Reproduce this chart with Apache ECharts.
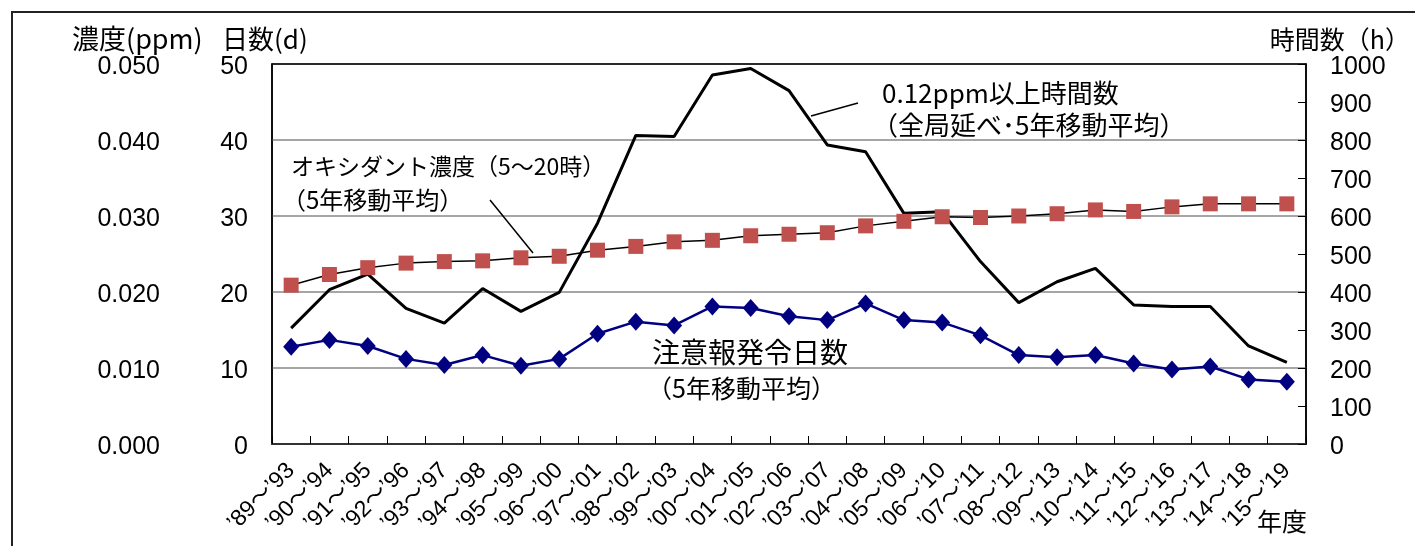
<!DOCTYPE html>
<html>
<head>
<meta charset="utf-8">
<script src="https://cdn.jsdelivr.net/npm/echarts@6/dist/echarts.min.js"></script>
<style>
html,body{margin:0;padding:0;background:#fff;}
#chart{width:1415px;height:546px;}
</style>
</head>
<body>
<div id="chart"></div>
<script>
var categories = ["’89～’93","’90～’94","’91～’95","’92～’96","’93～’97","’94～’98","’95～’99","’96～’00","’97～’01","’98～’02","’99～’03","’00～’04","’01～’05","’02～’06","’03～’07","’04～’08","’05～’09","’06～’10","’07～’11","’08～’12","’09～’13","’10～’14","’11～’15","’12～’16","’13～’17","’14～’18","’15～’19"];
// オキシダント濃度 (ppm, 5年移動平均)
var oxidantConc = [0.0209,0.0223,0.0232,0.0238,0.0240,0.0241,0.0245,0.0247,0.0255,0.0260,0.0266,0.0268,0.0274,0.0276,0.0278,0.0287,0.0293,0.0299,0.0298,0.0300,0.0303,0.0308,0.0306,0.0312,0.0316,0.0316,0.0316];
// 注意報発令日数 (d, 5年移動平均)
var alertDays = [12.8,13.7,12.9,11.2,10.4,11.7,10.3,11.2,14.5,16.1,15.6,18.1,17.9,16.8,16.3,18.5,16.3,16.0,14.3,11.7,11.4,11.7,10.6,9.8,10.2,8.5,8.2];
// 0.12ppm以上時間数 (h, 全局延べ・5年移動平均)
var hoursOver = [305,406,447,357,318,409,349,399,581,812,809,971,988,930,787,769,607,611,480,372,427,462,366,362,362,258,215];
var concTicks = [0,0.05,0.01];
var dayTicks = [0,50,10];
var hourTicks = [0,1000,100];

var FONT = "'Liberation Sans','Noto Sans CJK JP',sans-serif";
var JFONT = "'Noto Sans CJK JP',sans-serif";

var chart = echarts.init(document.getElementById('chart'), null, {renderer:'canvas'});

function txt(t, x, y, size, align){
  return {type:'text', x:x, y:y, z:100, style:{text:t, fill:'#000', fontSize:size, fontFamily:JFONT, textAlign:align||'left', textVerticalAlign:'middle', align:align||'left', verticalAlign:'middle'}};
}

function yLabel(fmt){
  return {margin:24, formatter:function(v){return '{a|' + fmt(v) + '}';},
          rich:{a:{fontSize:25, fontFamily:FONT, color:'#000', padding:[7,0,0,0]}}};
}

var option = {
  animation:false,
  backgroundColor:'#fff',
  grid:{left:272, right:109, top:64, bottom:102, show:true, borderColor:'#000', borderWidth:1.5, containLabel:false},
  xAxis:{
    type:'category', data:categories, boundaryGap:true,
    axisLine:{show:true, lineStyle:{color:'#333', width:2}},
    axisTick:{show:true, inside:true, length:8, lineStyle:{color:'#000', width:1}},
    axisLabel:{interval:0, rotate:45, fontSize:23, fontFamily:FONT, color:'#000', margin:23},
    splitLine:{show:false}
  },
  yAxis:[
    {type:'value', position:'left', min:dayTicks[0], max:dayTicks[1], interval:dayTicks[2],
     axisLine:{show:true, lineStyle:{color:'#000', width:1.5}},
     axisTick:{show:false},
     axisLabel:yLabel(function(v){return String(v);}),
     splitLine:{show:true, lineStyle:{color:'#a6a6a6', width:2}}},
    {type:'value', position:'left', offset:88, min:concTicks[0], max:concTicks[1], interval:concTicks[2],
     axisLine:{show:false}, axisTick:{show:false},
     axisLabel:yLabel(function(v){return v.toFixed(3);}),
     splitLine:{show:false}},
    {type:'value', position:'right', min:hourTicks[0], max:hourTicks[1], interval:hourTicks[2],
     axisLine:{show:true, lineStyle:{color:'#000', width:1.5}},
     axisTick:{show:true, inside:true, length:8, lineStyle:{color:'#000', width:1}},
     axisLabel:yLabel(function(v){return String(v);}),
     splitLine:{show:false}}
  ],
  series:[
    {name:'0.12ppm以上時間数', type:'line', yAxisIndex:2, data:hoursOver, symbol:'none', showSymbol:false,
     lineStyle:{color:'#000', width:3}, z:2},
    {name:'オキシダント濃度', type:'line', yAxisIndex:1, data:oxidantConc, symbol:'rect', symbolSize:15,
     itemStyle:{color:'#C0504D'}, lineStyle:{color:'#000', width:1.5}, z:3},
    {name:'注意報発令日数', type:'line', yAxisIndex:0, data:alertDays, symbol:'diamond', symbolSize:[16,18],
     itemStyle:{color:'#000080'}, lineStyle:{color:'#000080', width:2.5}, z:4}
  ],
  graphic:[
    {type:'polyline', z:100, shape:{points:[[12,560],[12,12],[1420,12]]}, style:{stroke:'#222', lineWidth:2, fill:null}},
    {type:'line', z:100, shape:{x1:272, y1:64, x2:1306, y2:64}, style:{stroke:'#000', lineWidth:1.5}},
    txt('濃度(ppm)', 72, 39, 27),
    txt('日数(d)', 222, 39, 26),
    txt('時間数（h）', 1410, 39, 25, 'right'),
    txt('オキシダント濃度（5～20時）', 291, 166, 23),
    txt('（5年移動平均）', 282, 200, 24),
    {type:'line', z:100, shape:{x1:490, y1:200, x2:533, y2:253}, style:{stroke:'#000', lineWidth:1.5}},
    txt('0.12ppm以上時間数', 882, 93, 26),
    txt('（全局延べ･5年移動平均）', 872, 125, 26),
    {type:'line', z:100, shape:{x1:858, y1:103, x2:811, y2:116}, style:{stroke:'#000', lineWidth:1.5}},
    txt('注意報発令日数', 652, 352, 28),
    txt('（5年移動平均）', 647, 388, 25),
    txt('年度', 1257, 521, 25)
  ]
};
chart.setOption(option);
</script>
</body>
</html>
